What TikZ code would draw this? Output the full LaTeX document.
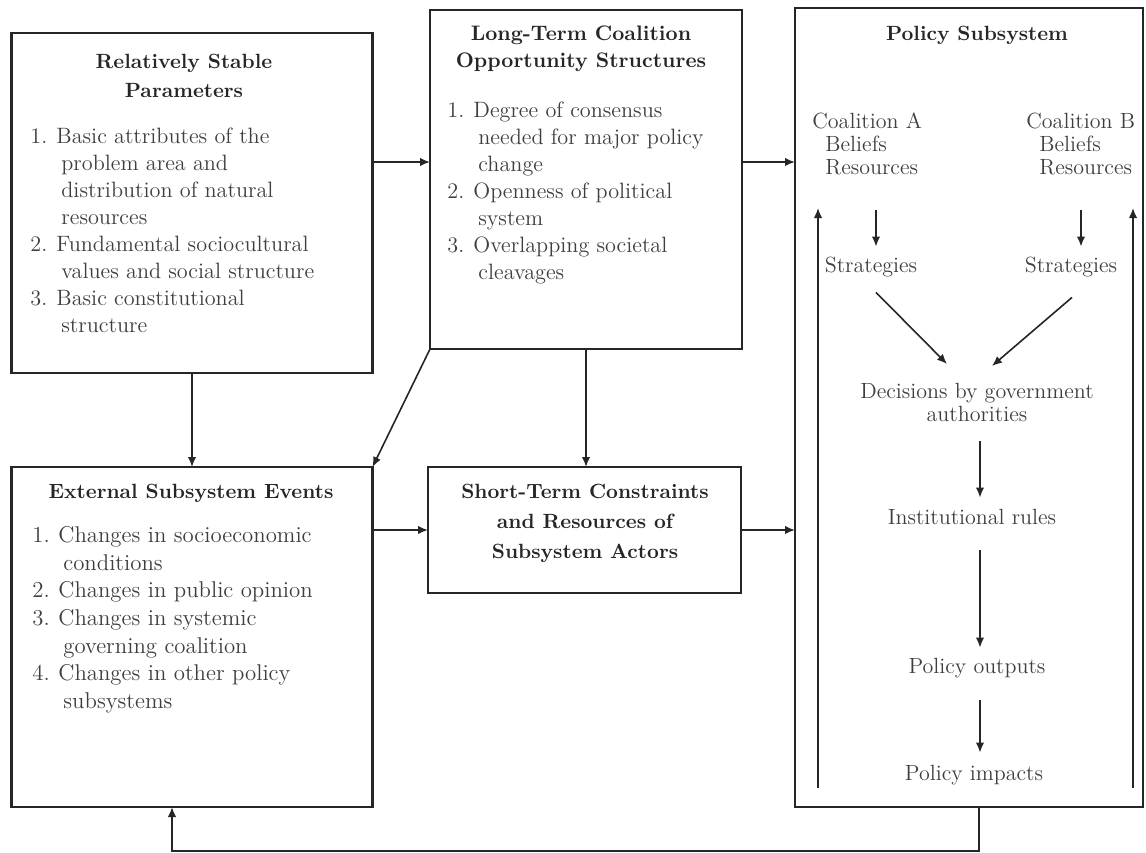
\documentclass[tikz,border=0pt]{standalone}
\usetikzlibrary{arrows.meta}
\definecolor{ln}{HTML}{262626}
\definecolor{tx}{HTML}{3E3E3E}
\definecolor{tt}{HTML}{262626}
\newcommand\myfirst{\rule{0pt}{9pt}}
\newcommand\mylast{\rule[-2.5pt]{0pt}{2.5pt}}
\newcommand\itm[1]{\makebox[13pt][l]{#1}}
\newcommand\ind{\hspace*{15.5pt}}
\tikzset{
 box/.style={draw=ln, line width=1.3pt, inner sep=0pt, outer sep=0pt, rectangle},
 arr/.style={draw=ln, line width=0.8pt, -{Latex[length=5pt,width=4.2pt]}},
 body/.style={inner sep=0pt, text=tx, font=\fontsize{11.1}{13.5}\selectfont, align=left, anchor=north west},
 ttl/.style={inner sep=0pt, text=tt, font=\fontsize{10.3}{14}\selectfont\bfseries, align=center, anchor=north},
 ttlone/.style={inner sep=0pt, text=tt, font=\fontsize{10.3}{14}\selectfont\bfseries, anchor=base},
 lbl/.style={inner sep=0pt, text=tx, font=\fontsize{11}{13.5}\selectfont, text height=8pt, text depth=2.5pt, anchor=base},
}
\begin{document}
\begin{tikzpicture}[x=0.5pt,y=-0.5pt]
\useasboundingbox (0,0) rectangle (1146,852);
% boxes
\node[box, minimum width=180.5pt, minimum height=170pt] (b1) at (192,203) {};
\node[box, minimum width=156pt, minimum height=169.5pt] (b2) at (586,179.5) {};
\node[box, minimum width=174pt, minimum height=399.5pt] (b3) at (969,407.5) {};
\node[box, minimum width=180.5pt, minimum height=170pt] (b4) at (192,637) {};
\node[box, minimum width=156.5pt, minimum height=63pt] (b5) at (584.5,530) {};
% box 1 text
\node[ttl, font=\fontsize{10.3}{14.5}\selectfont\bfseries] (t1) at (184,50) {\myfirst Relatively Stable\\Parameters};
\node[body] (l1) at (30,125) {\myfirst\itm{1.}Basic attributes of the\\
\ind problem area and\\
\ind distribution of natural\\
\ind resources\\
\itm{2.}Fundamental sociocultural\\
\ind values and social structure\\
\itm{3.}Basic constitutional\\
\ind structure};
% box 2 text
\node[ttl, font=\fontsize{10.5}{13.5}\selectfont\bfseries] (t2) at (581,22) {\myfirst Long-Term Coalition\\Opportunity Structures};
\node[body] (l2) at (447,99) {\myfirst\itm{1.}Degree of consensus\\
\ind needed for major policy\\
\ind change\\
\itm{2.}Openness of political\\
\ind system\\
\itm{3.}Overlapping societal\\
\ind cleavages};
% box 4 text
\node[ttlone] (t4) at (191,498) {External Subsystem Events};
\node[body, font=\fontsize{11.4}{13.85}\selectfont] (l4) at (32,524) {\myfirst\itm{1.}Changes in socioeconomic\\
\ind conditions\\
\itm{2.}Changes in public opinion\\
\itm{3.}Changes in systemic\\
\ind governing coalition\\
\itm{4.}Changes in other policy\\
\ind subsystems};
% box 5 text
\node[ttl, font=\fontsize{10.3}{15}\selectfont\bfseries] (t5) at (585,480) {\myfirst Short-Term Constraints\\and Resources of\\Subsystem Actors};
% box 3 text
\node[ttlone] (t3) at (977,40) {Policy Subsystem};
\node[body, font=\fontsize{11}{11.5}\selectfont] (cA) at (812,110) {\myfirst Coalition A\\\hspace*{6.5pt}Beliefs\\\hspace*{6.5pt}Resources\mylast};
\node[body, font=\fontsize{11}{11.5}\selectfont] (cB) at (1026,110) {\myfirst Coalition B\\\hspace*{6.5pt}Beliefs\\\hspace*{6.5pt}Resources\mylast};
\node[lbl] (sA) at (871,272) {Strategies};
\node[lbl] (sB) at (1071,272) {Strategies};
\node[inner sep=0pt, text=tx, font=\fontsize{11}{11.5}\selectfont, align=center, anchor=north] (dec) at (977,380) {\myfirst Decisions by government\\authorities\mylast};
\node[lbl] (inst) at (972,524) {Institutional rules};
\node[lbl] (out) at (977,673) {Policy outputs};
\node[lbl] (imp) at (974,780) {Policy impacts};
% coordinates
\coordinate (yA) at (0,162);
\coordinate (fb1) at (979,851);
\coordinate (fb2) at (172,851);
\coordinate (vl1) at (818,788);
\coordinate (vl2) at (818,208);
\coordinate (vr1) at (1133,788);
\coordinate (vr2) at (1133,208);
% connectors between boxes
\draw[arr] (b1.east |- yA) -- (b2.west |- yA);
\draw[arr] (b2.east |- yA) -- (b3.west |- yA);
\draw[arr] (b1.south) -- (b1.south |- b4.north);
\draw[arr] (b2.south west) -- (b4.north east);
\draw[arr] (b2.south) -- (b2.south |- b5.north);
\draw[arr] (b5.west -| b4.east) -- (b5.west);
\draw[arr] (b5.east) -- (b5.east -| b3.west);
\draw[arr] (b3.south -| fb1) -- (fb1) -- (fb2) -- (b4.south -| fb2);
% inside policy subsystem
\draw[arr] (vl1) -- (vl2);
\draw[arr] (vr1) -- (vr2);
\draw[arr, shorten <=15pt, shorten >=4.5pt] ([xshift=2.5pt]sA.north |- cA.south) -- ([xshift=2.5pt]sA.north);
\draw[arr, shorten <=15pt, shorten >=4.5pt] ([xshift=5pt]sB.north |- cB.south) -- ([xshift=5pt]sB.north);
\draw[arr] ([xshift=2.5pt,yshift=-7.5pt]sA.south) -- ([xshift=-15pt,yshift=8pt]dec.north);
\draw[arr] ([xshift=0.5pt,yshift=-10pt]sB.south) -- ([xshift=7.5pt,yshift=7pt]dec.north);
\draw[arr, shorten <=7pt, shorten >=5pt] ([xshift=1.5pt]dec.south) -- ([xshift=1.5pt]dec.south |- inst.north);
\draw[arr, shorten <=10.5pt, shorten >=4.5pt] ([xshift=1.5pt]out.north |- inst.south) -- ([xshift=1.5pt]out.north);
\draw[arr, shorten <=11pt, shorten >=5.5pt] ([xshift=1.5pt]out.south) -- ([xshift=1.5pt]out.south |- imp.north);
\end{tikzpicture}
\end{document}
